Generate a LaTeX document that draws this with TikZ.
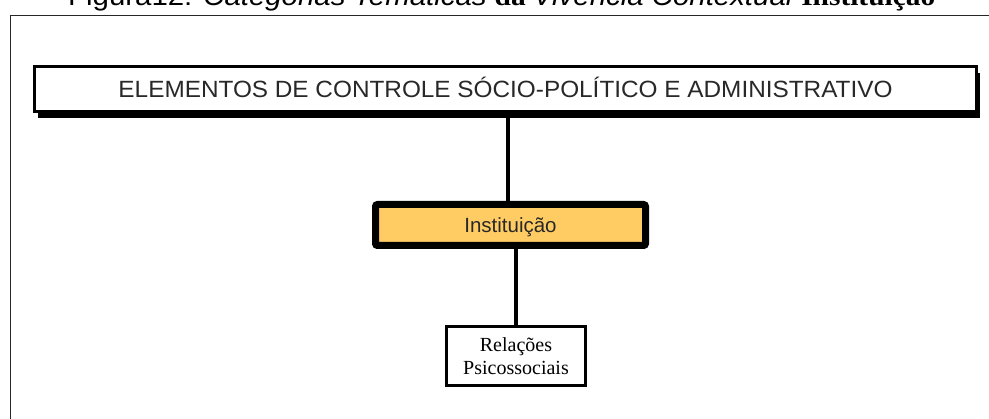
\documentclass[tikz,border=0pt]{standalone}
\usepackage{fontspec}
\usepackage{graphicx}
\setmainfont{Liberation Serif}
\setsansfont{Liberation Sans}
\usetikzlibrary{shadows}
\definecolor{instfill}{RGB}{255,204,100}
\definecolor{txtgrey}{RGB}{40,40,40}
\tikzset{
  topbox/.style={draw=black, line width=3pt, fill=white, inner sep=0pt, outer sep=0pt,
    minimum width=942pt, minimum height=45pt,
    drop shadow={shadow xshift=3.5pt, shadow yshift=-6.5pt, fill=black, opacity=1},
    font=\sffamily\fontsize{23.5}{28}\selectfont, text=txtgrey, text height=18pt, text depth=0pt},
  instbox/.style={draw=black, line width=7pt, fill=instfill, rounded corners=2pt,
    inner sep=0pt, outer sep=0pt, minimum width=270pt, minimum height=41pt,
    font=\sffamily\fontsize{20.5}{24}\selectfont, text=txtgrey, text height=16pt, text depth=0pt},
  relbox/.style={draw=black, line width=3pt, fill=white, inner sep=0pt, outer sep=0pt,
    minimum width=139pt, minimum height=59pt, align=center,
    font=\rmfamily\fontsize{20}{23}\selectfont},
  conn/.style={draw=black, line width=3.5pt},
  frame/.style={draw=black!85, line width=1.6pt},
}
\begin{document}
\begin{tikzpicture}[x=1pt,y=-1pt]
\useasboundingbox (0,0) rectangle (989,419);
% outer frame (continues beyond the picture)
\draw[frame] (10.5,440) -- (10.5,15.5) -- (1010,15.5);
% title, cut at the top
\node[anchor=base west, inner sep=0pt] (title) at (68,6)
  {\resizebox{867pt}{\height}{\fontsize{27}{32}\selectfont
   \sffamily Figura12: \textit{Categorias Temáticas} \rmfamily\bfseries da \sffamily\mdseries\textit{Vivência Contextual} \rmfamily\bfseries Instituição}};
% nodes
\node[topbox] (elem) at (505.5,89) {\resizebox{774pt}{\height}{ELEMENTOS DE CONTROLE SÓCIO-POLÍTICO E ADMINISTRATIVO}};
\node[instbox] (inst) at (510.5,225) {Instituição};
\node[relbox] (rel) at (516,356) {Relações\\Psicossociais};
% connectors
\draw[conn] ([xshift=2.5pt]elem.south) -- ([xshift=2.5pt]elem.south |- inst.north);
\draw[conn] (inst.south -| rel.north) -- (rel.north);
\end{tikzpicture}
\end{document}
